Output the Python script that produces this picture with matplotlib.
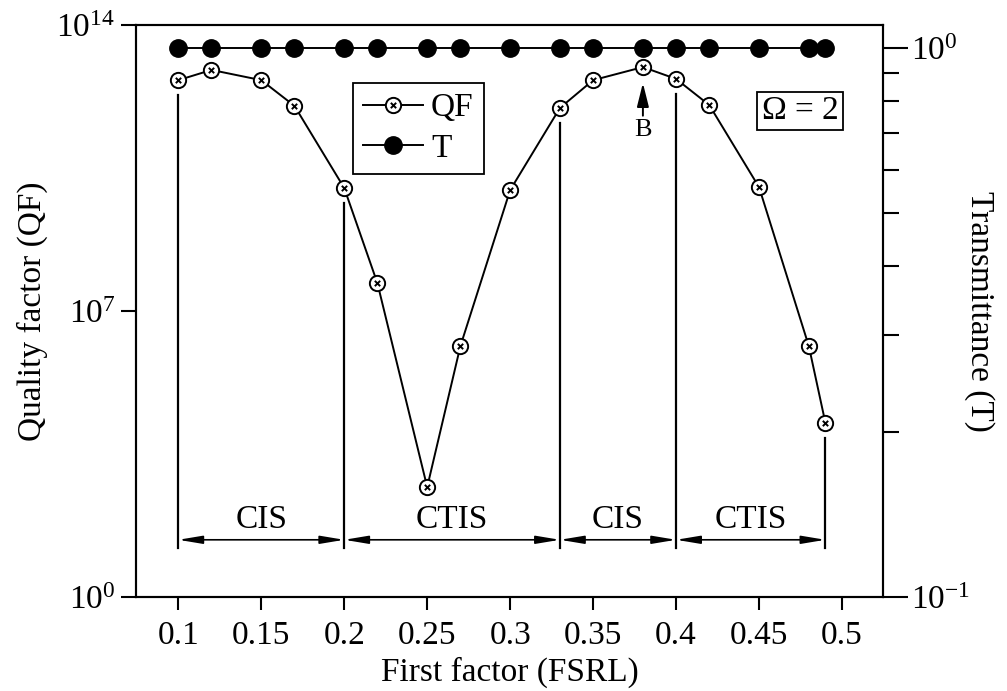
import matplotlib
matplotlib.use('Agg')
from matplotlib import pyplot as plt
from matplotlib.path import Path
import numpy as np

# data
fsrl = [0.10, 0.12, 0.15, 0.17, 0.20, 0.22, 0.25, 0.27, 0.30,
        0.33, 0.35, 0.38, 0.40, 0.42, 0.45, 0.48, 0.49]
qf_log = [12.65, 12.90, 12.65, 12.02, 10.01, 7.68, 2.69, 6.14, 9.96,
          11.97, 12.65, 12.97, 12.68, 12.04, 10.03, 6.14, 4.26]
trans = [1.0] * len(fsrl)

bounds = [0.10, 0.20, 0.33, 0.40, 0.49]
regions = ['CIS', 'CTIS', 'CIS', 'CTIS']
xticks = [0.1, 0.15, 0.2, 0.25, 0.3, 0.35, 0.4, 0.45, 0.5]
xticklabels = ['0.1', '0.15', '0.2', '0.25', '0.3', '0.35', '0.4', '0.45', '0.5']

qf = 10.0 ** np.array(qf_log)

matplotlib.rcParams['font.family'] = 'serif'
matplotlib.rcParams['font.serif'] = ['Liberation Serif', 'DejaVu Serif']
matplotlib.rcParams['mathtext.fontset'] = 'custom'
matplotlib.rcParams['mathtext.rm'] = 'Liberation Serif'
matplotlib.rcParams['mathtext.it'] = 'Liberation Serif:italic'
matplotlib.rcParams['font.size'] = 24
matplotlib.rcParams['axes.linewidth'] = 1.5

fs = 24

# circle with a faint cross inside, for the QF markers
circ = Path.unit_circle()
k = 0.35
cross = Path([(-k, -k), (k, k), (-k, k), (k, -k)],
             [Path.MOVETO, Path.LINETO, Path.MOVETO, Path.LINETO])
qf_marker = Path.make_compound_path(circ, cross)

fig = plt.figure(figsize=(10.07, 6.91), dpi=100)
ax = fig.add_axes([136 / 1007, 1 - 597 / 691, (883 - 136) / 1007, (597 - 25) / 691])
ax2 = ax.twinx()

l1, = ax.plot(fsrl, qf, '-', color='black', lw=1.4, marker=qf_marker,
              ms=11, mfc='white', mec='black', mew=1.4, zorder=5)
l2, = ax2.plot(fsrl, trans, '-', color='black', lw=1.4, marker='o',
               ms=12.5, mfc='black', mec='black', zorder=5)

ax.set_yscale('log')
ax.set_ylim(1, 1e14)
ax.set_xlim(0.0745, 0.5247)
ax.set_yticks([1, 1e7, 1e14])
ax.set_yticklabels([r'$10^0$', r'$10^7$', r'$10^{14}$'])
ax.yaxis.set_minor_locator(matplotlib.ticker.NullLocator())
ax.set_xticks(xticks)
ax.set_xticklabels(xticklabels)

ax2.set_yscale('log')
ax2.set_ylim(0.1, 1.101)
ax2.set_yticks([0.1, 1.0])
ax2.set_yticklabels([r'$10^{-1}$', r'$10^0$'])
ax2.set_yticks([0.2, 0.3, 0.4, 0.5, 0.6, 0.7, 0.8, 0.9], minor=True)
ax2.yaxis.set_minor_formatter(matplotlib.ticker.NullFormatter())

ax.tick_params(axis='y', which='major', direction='out', length=11, width=1.5,
               labelsize=fs, pad=4)
ax.tick_params(axis='x', which='major', direction='out', length=9, width=1.5,
               labelsize=fs, pad=8)
ax2.tick_params(axis='y', which='major', direction='out', length=18, width=1.5,
                labelsize=fs, pad=2)
ax2.tick_params(axis='y', which='minor', direction='out', length=11.5, width=1.5)

ax.set_xlabel('First factor (FSRL)', fontsize=fs, labelpad=4)
ax.set_ylabel('Quality factor (QF)', fontsize=fs, labelpad=6)
ax2.set_ylabel('Transmittance (T)', fontsize=fs, rotation=270, labelpad=18)

# vertical boundaries and double arrows
y_arrow = 10 ** 1.40
y_bottom = 10 ** 1.2
y_text = 10 ** 1.88
for b in bounds:
    i = fsrl.index(b)
    ax.plot([b, b], [y_bottom, qf[i] / 10 ** 0.36], color='black', lw=1.6, zorder=3)
for j in range(len(regions)):
    ax.annotate('', xy=(bounds[j + 1], y_arrow), xytext=(bounds[j], y_arrow),
                arrowprops=dict(arrowstyle='<|-|>,head_length=0.6,head_width=0.1',
                                color='black', lw=1.2, shrinkA=0, shrinkB=0))
    ax.text((bounds[j] + bounds[j + 1]) / 2, y_text, regions[j],
            ha='center', va='center', fontsize=fs)

# point B
ax.annotate('', xy=(0.38, 10 ** 12.58), xytext=(0.38, 10 ** 11.78),
            arrowprops=dict(arrowstyle='-|>,head_length=0.6,head_width=0.15',
                            color='black', lw=1.4, shrinkA=0, shrinkB=0))
ax.text(0.38, 10 ** 11.42, 'B', ha='center', va='center', fontsize=19)

ax.text(0.889, 0.850, r'$\Omega$ = 2', transform=ax.transAxes, ha='center',
        va='center', fontsize=fs,
        bbox=dict(boxstyle='square,pad=0.12', fc='white', ec='black', lw=1.3))

leg = ax2.legend([l1, l2], ['QF', 'T'], loc='upper left',
                 bbox_to_anchor=(0.29, 0.899), borderaxespad=0,
                 fancybox=False, edgecolor='black', framealpha=1,
                 handlelength=1.8, handletextpad=0.25, fontsize=fs,
                 borderpad=0.3, labelspacing=0.3)
leg.get_frame().set_linewidth(1.3)

plt.savefig('out.png', dpi=100)
